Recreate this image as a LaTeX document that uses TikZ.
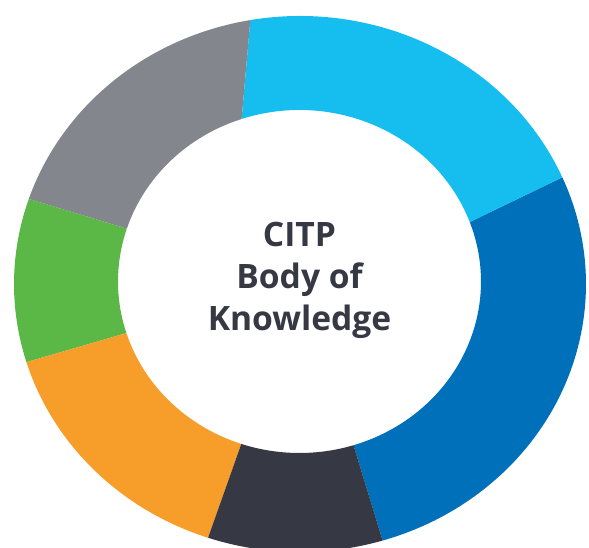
\documentclass[tikz,border=0pt]{standalone}
\usepackage{fontspec}
\setmainfont{Open Sans}
\definecolor{cLight}{HTML}{16BEF0}
\definecolor{cDark}{HTML}{0070BA}
\definecolor{cGray}{HTML}{84868E}
\definecolor{cGreen}{HTML}{5BB847}
\definecolor{cOrange}{HTML}{F79D2A}
\definecolor{cNavy}{HTML}{363844}
\begin{document}
\begin{tikzpicture}[x=1pt,y=1pt,
  seg/.style={fill=#1, draw=none},
  title/.style={anchor=base, text=cNavy, font=\fontsize{33.6}{42}\selectfont\bfseries, inner sep=0pt}]
\useasboundingbox (0,0) rectangle (589,547);
\coordinate (O) at (300,263);
\coordinate (I) at (299.5,265.5);
\def\ro{286 and 268}
\def\ri{181.5 and 171.5}
% dark blue
\fill[seg=cDark] ([shift={(O)}]-73.2:\ro) arc[start angle=-73.2, end angle=23.46, x radius=286, y radius=268]
  -- ([shift={(I)}]20.3:\ri) arc[start angle=20.3, end angle=-72.7, x radius=181.5, y radius=171.5] -- cycle;
% light blue
\fill[seg=cLight] ([shift={(O)}]23.46:\ro) arc[start angle=23.46, end angle=100, x radius=286, y radius=268]
  -- ([shift={(I)}]108.6:\ri) arc[start angle=108.6, end angle=20.3, x radius=181.5, y radius=171.5] -- cycle;
% gray
\fill[seg=cGray] ([shift={(O)}]100:\ro) arc[start angle=100, end angle=161.5, x radius=286, y radius=268]
  -- ([shift={(I)}]162.05:\ri) arc[start angle=162.05, end angle=108.6, x radius=181.5, y radius=171.5] -- cycle;
% green
\fill[seg=cGreen] ([shift={(O)}]161.5:\ro) arc[start angle=161.5, end angle=196.95, x radius=286, y radius=268]
  -- ([shift={(I)}]197.5:\ri) arc[start angle=197.5, end angle=162.05, x radius=181.5, y radius=171.5] -- cycle;
% orange
\fill[seg=cOrange] ([shift={(O)}]196.95:\ro) arc[start angle=196.95, end angle=251.25, x radius=286, y radius=268]
  -- ([shift={(I)}]251.3:\ri) arc[start angle=251.3, end angle=197.5, x radius=181.5, y radius=171.5] -- cycle;
% dark navy
\fill[seg=cNavy] ([shift={(O)}]251.25:\ro) arc[start angle=251.25, end angle=286.8, x radius=286, y radius=268]
  -- ([shift={(I)}]287.3:\ri) arc[start angle=287.3, end angle=251.3, x radius=181.5, y radius=171.5] -- cycle;
\node[title] (l1) at (299.5,300.3) {CITP};
\node[title] (l2) at (299.5,258.5) {Body of};
\node[title] (l3) at (299.5,216.3) {Knowledge};
\end{tikzpicture}
\end{document}
